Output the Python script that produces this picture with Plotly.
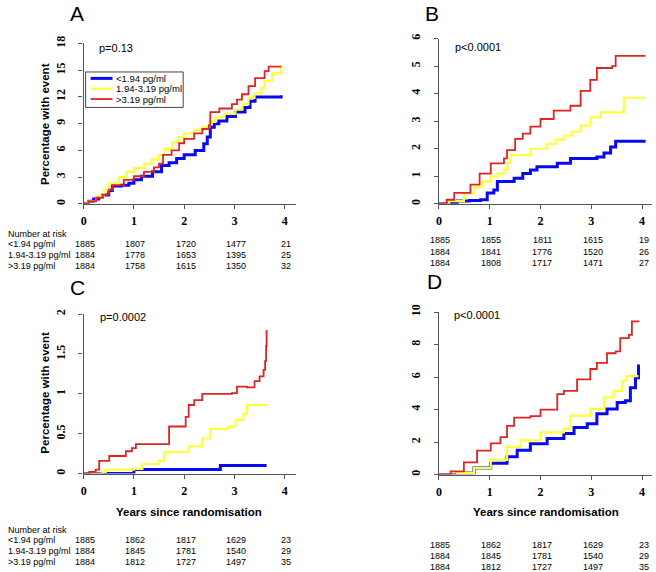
import plotly.graph_objects as go

W, H = 656, 572

# ---------------- data ----------------
group_names = ["<1.94 pg/ml", "1.94-3.19 pg/ml", ">3.19 pg/ml"]
group_colors = ["#0a0af0", "#ffff3a", "#e02424"]
group_widths = [3.0, 2.2, 1.8]

# Panel A
a_low_t = [0, 0.10, 0.20, 0.30, 0.38, 0.50, 0.57, 0.75, 0.90, 1.00, 1.15, 1.37, 1.55, 1.70, 1.85, 2.00, 2.22, 2.39, 2.46, 2.52, 2.60, 2.69, 2.85, 3.02, 3.21, 3.31, 3.41, 3.93]
a_low_y = [0, 0.30, 0.55, 0.80, 1.00, 1.50, 2.00, 2.10, 2.30, 2.70, 3.10, 3.60, 4.30, 4.60, 5.10, 5.50, 6.00, 6.75, 7.50, 8.60, 9.00, 9.30, 9.80, 10.30, 10.80, 11.50, 12.00, 12.20]
a_mid_t = [0, 0.10, 0.25, 0.40, 0.51, 0.70, 0.85, 1.00, 1.20, 1.35, 1.50, 1.62, 1.76, 1.90, 2.00, 2.20, 2.36, 2.50, 2.62, 2.80, 3.02, 3.15, 3.28, 3.40, 3.54, 3.60, 3.75, 3.93]
a_mid_y = [0, 0.30, 0.90, 1.60, 2.30, 3.00, 3.60, 4.00, 4.50, 5.00, 5.50, 6.20, 6.90, 7.50, 7.90, 8.30, 8.60, 9.20, 9.70, 10.10, 10.60, 11.20, 11.90, 12.40, 13.00, 13.80, 14.70, 15.60]
a_high_t = [0, 0.10, 0.25, 0.38, 0.50, 0.57, 0.80, 1.00, 1.20, 1.40, 1.50, 1.58, 1.75, 1.90, 2.00, 2.20, 2.36, 2.49, 2.52, 2.70, 2.95, 3.05, 3.15, 3.28, 3.41, 3.60, 3.68, 3.93]
a_high_y = [0, 0.30, 0.70, 1.00, 1.60, 2.10, 2.70, 3.10, 3.60, 4.10, 4.50, 5.50, 6.00, 6.80, 7.30, 7.90, 8.40, 8.80, 10.30, 10.70, 11.20, 11.70, 12.30, 13.20, 14.10, 14.90, 15.40, 15.40]

# Panel B
b_low_t = [0, 0.20, 0.36, 0.60, 0.82, 0.95, 1.08, 1.15, 1.48, 1.65, 1.80, 1.93, 2.33, 2.59, 3.11, 3.25, 3.38, 3.48, 4.07]
b_low_y = [0, 0.05, 0.10, 0.12, 0.15, 0.39, 0.50, 0.81, 0.93, 1.10, 1.23, 1.35, 1.47, 1.65, 1.70, 1.85, 2.06, 2.27, 2.27]
b_mid_t = [0, 0.20, 0.49, 0.70, 0.85, 1.02, 1.15, 1.28, 1.35, 1.41, 1.80, 2.13, 2.30, 2.46, 2.62, 2.79, 2.98, 3.18, 3.51, 3.64, 4.07]
b_mid_y = [0, 0.10, 0.39, 0.60, 0.80, 1.00, 1.10, 1.23, 1.50, 1.77, 2.00, 2.18, 2.33, 2.48, 2.62, 2.84, 3.14, 3.32, 3.32, 3.85, 3.85]
b_high_t = [0, 0.15, 0.30, 0.62, 0.80, 1.02, 1.28, 1.34, 1.50, 1.65, 1.80, 2.00, 2.26, 2.59, 2.79, 2.98, 3.11, 3.41, 3.48, 4.07]
b_high_y = [0, 0.15, 0.40, 0.70, 1.10, 1.47, 1.65, 1.95, 2.36, 2.55, 2.80, 3.08, 3.38, 3.56, 4.10, 4.50, 4.93, 5.00, 5.37, 5.37]

# Panel C
c_low_t = [0, 1.00, 2.52, 2.72, 3.64]
c_low_y = [0, 0.05, 0.05, 0.10, 0.10]
c_mid_t = [0, 0.38, 0.44, 1.00, 1.17, 1.50, 1.60, 2.06, 2.09, 2.29, 2.36, 2.52, 2.88, 3.02, 3.18, 3.25, 3.64]
c_mid_y = [0, 0.02, 0.05, 0.06, 0.12, 0.16, 0.27, 0.27, 0.34, 0.34, 0.44, 0.56, 0.59, 0.67, 0.75, 0.86, 0.85]
c_high_t = [0, 0.11, 0.24, 0.31, 0.40, 0.51, 0.84, 0.96, 1.04, 1.56, 1.70, 2.03, 2.09, 2.20, 2.36, 2.95, 3.05, 3.25, 3.40, 3.50, 3.58, 3.61, 3.63, 3.64]
c_high_y = [0, 0.02, 0.05, 0.16, 0.16, 0.22, 0.28, 0.32, 0.37, 0.37, 0.59, 0.71, 0.86, 0.92, 1.00, 1.01, 1.09, 1.08, 1.16, 1.22, 1.30, 1.41, 1.60, 1.80]

# Panel D
d_low_t = [0, 0.36, 0.69, 1.02, 1.34, 1.54, 1.80, 2.13, 2.46, 2.66, 2.92, 3.11, 3.31, 3.51, 3.67, 3.77, 3.87, 3.93]
d_low_y = [0, 0.10, 0.40, 0.70, 1.10, 1.50, 1.90, 2.22, 2.52, 2.90, 3.13, 3.74, 4.04, 4.44, 4.55, 5.35, 5.96, 6.77]
d_mid_t = [0, 0.36, 0.69, 1.02, 1.34, 1.61, 2.00, 2.46, 2.59, 2.98, 3.25, 3.44, 3.61, 3.69, 3.93]
d_mid_y = [0, 0.10, 0.40, 0.90, 1.70, 2.10, 2.60, 2.83, 3.63, 4.04, 4.75, 5.15, 5.76, 6.06, 6.06]
d_high_t = [0, 0.23, 0.49, 0.75, 1.02, 1.21, 1.34, 1.48, 1.80, 2.00, 2.33, 2.46, 2.72, 2.98, 3.11, 3.31, 3.48, 3.57, 3.74, 3.80, 3.93]
d_high_y = [0, 0.20, 0.75, 1.47, 1.92, 2.30, 3.00, 3.50, 3.60, 4.00, 4.95, 5.15, 5.86, 6.50, 6.87, 7.47, 7.58, 8.40, 8.60, 9.43, 9.40]

# Number at risk tables
risk_times = [0, 1, 2, 3, 4]
a_risk = [[1885, 1807, 1720, 1477, 21], [1884, 1778, 1653, 1395, 25], [1884, 1758, 1615, 1350, 32]]
b_risk = [[1885, 1855, 1811, 1615, 19], [1884, 1841, 1776, 1520, 26], [1884, 1808, 1717, 1471, 27]]
c_risk = [[1885, 1862, 1817, 1629, 23], [1884, 1845, 1781, 1540, 29], [1884, 1812, 1727, 1497, 35]]
d_risk = [[1885, 1862, 1817, 1629, 23], [1884, 1845, 1781, 1540, 29], [1884, 1812, 1727, 1497, 35]]

p_values = ["p=0.13", "p<0.0001", "p=0.0002", "p<0.0001"]
panel_letters = ["A", "B", "C", "D"]
y_ticks = [[0, 3, 6, 9, 12, 15, 18], [0, 1, 2, 3, 4, 5, 6], [0, 0.5, 1, 1.5, 2], [0, 2, 4, 6, 8, 10]]
y_tick_text = [["0", "3", "6", "9", "12", "15", "18"], ["0", "1", "2", "3", "4", "5", "6"],
               ["0", "0.5", "1", "1.5", "2"], ["0", "2", "4", "6", "8", "10"]]
x_ticks = [0, 1, 2, 3, 4]

# ---------------- layout helpers ----------------
def px(x):
    return x / W

def py(y):
    return 1 - y / H

# pixel geometry of each panel: (x_left, x_right, px_per_year, y_bottom, y_top, ymax)
panels = [
    (81, 294, 50.5, 199, 36, 18),
    (438, 652, 51.0, 199, 31, 6),
    (81, 294, 50.5, 473, 311, 2),
    (438, 652, 51.0, 474, 309, 10),
]

series = [
    [(a_low_t, a_low_y), (a_mid_t, a_mid_y), (a_high_t, a_high_y)],
    [(b_low_t, b_low_y), (b_mid_t, b_mid_y), (b_high_t, b_high_y)],
    [(c_low_t, c_low_y), (c_mid_t, c_mid_y), (c_high_t, c_high_y)],
    [(d_low_t, d_low_y), (d_mid_t, d_mid_y), (d_high_t, d_high_y)],
]

fig = go.Figure()
axis_col = "#555555"
SANS = "Liberation Sans, Arial, sans-serif"
SERIF = "Liberation Serif, Times New Roman, serif"

for i, (xl, xr, ppy, yb, yt, ymax) in enumerate(panels):
    n = "" if i == 0 else str(i + 1)
    xa = "xaxis" + n
    ya = "yaxis" + n
    fig.layout[xa] = dict(
        domain=[px(xl), px(xr)], range=[0, (xr - xl) / ppy], anchor="y" + n,
        showline=True, linecolor=axis_col, linewidth=1.3, showgrid=False, zeroline=False,
        ticks="outside", ticklen=4, tickcolor=axis_col, tickwidth=1.3,
        tickvals=x_ticks, ticktext=[str(v) for v in x_ticks],
        tickfont=dict(family=SERIF, size=12, color="black", weight="bold"),
        ticklabelstandoff=2,
    )
    fig.layout[ya] = dict(
        domain=[py(yb), py(yt)], range=[0, ymax], anchor="x" + n,
        showline=True, linecolor=axis_col, linewidth=1.3, showgrid=False, zeroline=False,
        ticks="outside", ticklen=4, tickcolor=axis_col, tickwidth=1.3,
        tickvals=y_ticks[i], ticktext=y_tick_text[i], tickangle=-90,
        tickfont=dict(family=SERIF, size=12, color="black", weight="bold"),
        ticklabelstandoff=9,
    )
    for g in range(3):
        t, v = series[i][g]
        fig.add_trace(go.Scatter(
            x=t, y=v, mode="lines", line=dict(color=group_colors[g], width=group_widths[g], shape="hv"),
            name=group_names[g], showlegend=False, xaxis="x" + n, yaxis="y" + n, hoverinfo="skip",
        ))

annotations = []
shapes = []

# panel letters
letter_pos = [(74.5, 6), (431, 6), (74.5, 284), (433, 278)]
for L, (x, y) in zip(panel_letters, letter_pos):
    annotations.append(dict(text=L, x=px(x), y=py(y), xref="paper", yref="paper", showarrow=False,
                            font=dict(family=SANS, size=21, color="black"), xanchor="center", yanchor="middle"))

# p values
p_pos = [(94, 41), (452, 40), (95, 314), (451, 312)]
for t, (x, y) in zip(p_values, p_pos):
    annotations.append(dict(text=t, x=px(x), y=py(y), xref="paper", yref="paper", showarrow=False,
                            font=dict(family=SANS, size=11, color="black"), xanchor="left", yanchor="middle"))

# y axis titles
for yc in (118, 391):
    annotations.append(dict(text="<b>Percentage with event</b>", x=px(42), y=py(yc), xref="paper", yref="paper",
                            showarrow=False, textangle=-90, font=dict(family=SANS, size=11.5, color="black"),
                            xanchor="center", yanchor="middle"))

# x axis titles
for xc in (187, 545):
    annotations.append(dict(text="<b>Years since randomisation</b>", x=px(xc), y=py(512), xref="paper", yref="paper",
                            showarrow=False, font=dict(family=SANS, size=11.5, color="black"),
                            xanchor="center", yanchor="middle"))

# risk tables
tables = [
    (a_risk, "x", [240, 251, 262], 230, True),
    (b_risk, "x2", [236, 247.5, 259], None, False),
    (c_risk, "x3", [541, 552, 563], 530, True),
    (d_risk, "x4", [546, 557, 567.5], None, False),
]
tf = dict(family=SANS, size=9, color="black")
for risk, xref, rows, head, labels in tables:
    if head is not None:
        annotations.append(dict(text="Number at risk", x=px(3), y=py(head), xref="paper", yref="paper",
                                showarrow=False, font=tf, xanchor="left", yanchor="middle"))
    for g in range(3):
        if labels:
            annotations.append(dict(text=group_names[g], x=px(3), y=py(rows[g]), xref="paper", yref="paper",
                                    showarrow=False, font=tf, xanchor="left", yanchor="middle"))
        for tt, val in zip(risk_times, risk[g]):
            annotations.append(dict(text=str(val), x=tt, y=py(rows[g]), xref=xref, yref="paper",
                                    showarrow=False, font=tf, xanchor="center", yanchor="middle", xshift=1.5))

# legend (panel A)
shapes.append(dict(type="rect", xref="paper", yref="paper", x0=px(83), x1=px(181), y0=py(101), y1=py(65),
                   line=dict(color="#444444", width=1), fillcolor="white", layer="below"))
leg_rows = [71.5, 82, 92.5]
for g in range(3):
    shapes.append(dict(type="line", xref="paper", yref="paper", x0=px(88), x1=px(110), y0=py(leg_rows[g]),
                       y1=py(leg_rows[g]), line=dict(color=group_colors[g], width=group_widths[g] if g else 3.0)))
    annotations.append(dict(text=group_names[g], x=px(112), y=py(leg_rows[g]), xref="paper", yref="paper",
                            showarrow=False, font=dict(family=SANS, size=9.5, color="black"),
                            xanchor="left", yanchor="middle"))

fig.update_layout(
    width=W, height=H, margin=dict(l=0, r=0, t=0, b=0),
    paper_bgcolor="white", plot_bgcolor="white",
    annotations=annotations, shapes=shapes, showlegend=False,
)

fig.write_html("out.html", config={"displayModeBar": False},
               post_script="document.body.style.margin='0';document.body.style.overflow='hidden';")
